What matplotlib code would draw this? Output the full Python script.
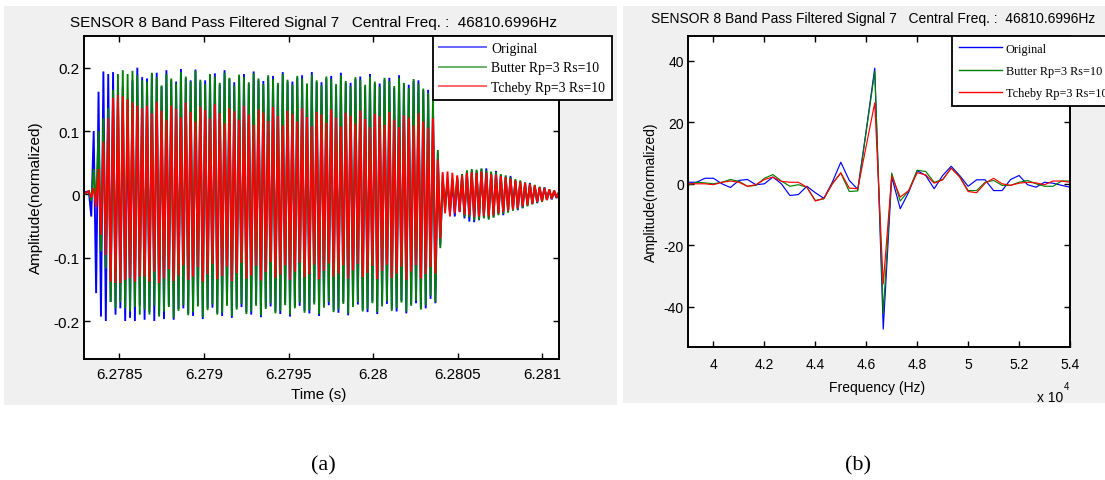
import numpy as np
import matplotlib
matplotlib.use("Agg")
import matplotlib.pyplot as plt
from matplotlib.patches import Rectangle
from matplotlib.lines import Line2D

plt.rcParams['font.family'] = ['Liberation Sans', 'DejaVu Sans']

# ---------------- data : panel (a) time signal ----------------
t_start, t_end = 6.27829, 6.28110

blue_onset = [0.003, 0.004, 0.005, -0.035, 0.100, -0.156, 0.162, -0.193, 0.194, -0.200,
              0.190, -0.170, 0.193, -0.190, 0.160, -0.180, 0.170, -0.200, 0.150, -0.195,
              0.180, -0.200, 0.200, -0.175, 0.185]
green_onset = [0.000, 0.002, 0.005, -0.010, 0.040, -0.020, 0.100, -0.090, 0.120, -0.117,
               0.136, -0.170, 0.165, -0.180, 0.190, -0.170, 0.196, -0.180, 0.190, -0.185,
               0.195, -0.178, 0.188, -0.190, 0.180]
red_onset = [0.000, 0.003, 0.005, -0.005, 0.010, -0.020, 0.040, -0.064, 0.083, -0.096,
             0.120, -0.138, 0.152, -0.140, 0.157, -0.140, 0.155, -0.135, 0.150, -0.132,
             0.145, -0.138, 0.140, -0.130, 0.136]

green_burst_neg = [-0.182, -0.190, -0.176, -0.193, -0.185, -0.178, -0.195, -0.184, -0.175, -0.191,
                   -0.186, -0.177, -0.194, -0.183, -0.174, -0.190, -0.187, -0.176, -0.192, -0.182,
                   -0.173, -0.189, -0.185, -0.176, -0.191, -0.181, -0.172, -0.188, -0.184, -0.175,
                   -0.190, -0.180, -0.171, -0.187, -0.183, -0.174, -0.189, -0.179, -0.170, -0.186,
                   -0.182, -0.173, -0.188, -0.178, -0.170, -0.185, -0.181, -0.172, -0.186, -0.177,
                   -0.169, -0.184, -0.180, -0.171, -0.185, -0.176, -0.168, -0.182, -0.175, -0.160,
                   -0.170]
green_burst_pos = [0.178, 0.192, 0.185, 0.172, 0.190, 0.183, 0.175, 0.193, 0.186, 0.178,
                   0.195, 0.181, 0.174, 0.190, 0.186, 0.176, 0.192, 0.184, 0.172, 0.189,
                   0.185, 0.177, 0.191, 0.183, 0.174, 0.188, 0.182, 0.176, 0.190, 0.181,
                   0.173, 0.187, 0.183, 0.175, 0.189, 0.180, 0.172, 0.186, 0.182, 0.174,
                   0.188, 0.179, 0.171, 0.185, 0.181, 0.173, 0.186, 0.178, 0.170, 0.184,
                   0.179, 0.171, 0.184, 0.176, 0.168, 0.182, 0.175, 0.167, 0.160, 0.150]
red_burst_neg = [-0.130, -0.138, -0.122, -0.140, -0.133, -0.118, -0.137, -0.128, -0.112, -0.135,
                 -0.130, -0.115, -0.138, -0.126, -0.110, -0.134, -0.129, -0.114, -0.137, -0.124,
                 -0.108, -0.133, -0.128, -0.113, -0.136, -0.123, -0.107, -0.132, -0.127, -0.112,
                 -0.135, -0.122, -0.108, -0.131, -0.126, -0.111, -0.134, -0.121, -0.109, -0.130,
                 -0.125, -0.112, -0.133, -0.120, -0.110, -0.131, -0.124, -0.113, -0.134, -0.121,
                 -0.111, -0.132, -0.125, -0.114, -0.135, -0.122, -0.112, -0.133, -0.126, -0.115,
                 -0.125]
red_burst_pos = [0.140, 0.128, 0.146, 0.132, 0.118, 0.140, 0.135, 0.122, 0.145, 0.130,
                 0.115, 0.138, 0.133, 0.120, 0.142, 0.128, 0.112, 0.136, 0.131, 0.118,
                 0.140, 0.126, 0.110, 0.134, 0.129, 0.116, 0.138, 0.124, 0.109, 0.132,
                 0.127, 0.115, 0.136, 0.122, 0.108, 0.130, 0.126, 0.113, 0.134, 0.121,
                 0.107, 0.129, 0.124, 0.112, 0.132, 0.119, 0.106, 0.127, 0.123, 0.110,
                 0.130, 0.118, 0.106, 0.125, 0.121, 0.109, 0.128, 0.115, 0.105, 0.120]
blue_burst_neg = [-0.198, -0.186, -0.200, -0.190, -0.197, -0.175, -0.198, -0.181, -0.180, -0.188,
                  -0.192, -0.174, -0.197, -0.180, -0.179, -0.187, -0.192, -0.173, -0.195, -0.179,
                  -0.178, -0.186, -0.190, -0.173, -0.194, -0.178, -0.177, -0.185, -0.189, -0.172,
                  -0.193, -0.177, -0.176, -0.184, -0.188, -0.171, -0.192, -0.176, -0.175, -0.183,
                  -0.187, -0.170, -0.191, -0.175, -0.174, -0.182, -0.186, -0.169, -0.189, -0.174,
                  -0.173, -0.181, -0.185, -0.168, -0.188, -0.173, -0.172, -0.179, -0.180, -0.165,
                  -0.172]
blue_burst_pos = [0.183, 0.190, 0.192, 0.170, 0.196, 0.180, 0.178, 0.198, 0.183, 0.180,
                  0.197, 0.178, 0.180, 0.188, 0.191, 0.173, 0.196, 0.182, 0.177, 0.186,
                  0.190, 0.174, 0.194, 0.180, 0.179, 0.185, 0.187, 0.173, 0.193, 0.178,
                  0.178, 0.184, 0.188, 0.172, 0.193, 0.177, 0.177, 0.183, 0.187, 0.171,
                  0.192, 0.176, 0.176, 0.182, 0.186, 0.170, 0.190, 0.175, 0.175, 0.181,
                  0.184, 0.168, 0.188, 0.173, 0.173, 0.179, 0.180, 0.164, 0.165, 0.140]

green_tail = [0.070, -0.085, 0.030, -0.025, 0.022, -0.028, 0.025, -0.020, 0.028, -0.025,
              0.032, -0.035, 0.038, -0.036, 0.040, -0.041, 0.039, -0.040, 0.041, -0.038,
              0.038, -0.040, 0.036, -0.037, 0.035, -0.033, 0.032, -0.031, 0.030, -0.029,
              0.027, -0.026, 0.024, -0.024, 0.022, -0.021, 0.019, -0.019, 0.017, -0.016,
              0.015, -0.013, 0.012, -0.012, 0.010, -0.009, 0.008, -0.007, 0.006, -0.005,
              0.004]
red_tail = [0.055, -0.070, 0.035, -0.030, 0.036, -0.035, 0.034, -0.030, 0.030, -0.028,
            0.030, -0.032, 0.034, -0.033, 0.035, -0.036, 0.034, -0.035, 0.036, -0.034,
            0.034, -0.035, 0.032, -0.033, 0.031, -0.030, 0.029, -0.028, 0.027, -0.026,
            0.025, -0.024, 0.022, -0.022, 0.020, -0.019, 0.018, -0.017, 0.016, -0.015,
            0.014, -0.012, 0.011, -0.011, 0.010, -0.009, 0.008, -0.007, 0.006, -0.005,
            0.004]
blue_tail = [0.065, -0.080, 0.020, -0.015, 0.018, -0.030, 0.020, -0.035, 0.025, -0.028,
             0.030, -0.038, 0.035, -0.043, 0.037, -0.044, 0.036, -0.041, 0.040, -0.036,
             0.041, -0.038, 0.034, -0.035, 0.037, -0.031, 0.030, -0.033, 0.028, -0.027,
             0.029, -0.024, 0.022, -0.025, 0.020, -0.022, 0.018, -0.017, 0.018, -0.015,
             0.013, -0.014, 0.011, -0.010, 0.011, -0.008, 0.007, -0.008, 0.005, -0.006,
             0.003]

time_ticks = [6.2785, 6.279, 6.2795, 6.28, 6.2805, 6.281]
time_tick_labels = ['6.2785', '6.279', '6.2795', '6.28', '6.2805', '6.281']
amp_ticks = [-0.2, -0.1, 0, 0.1, 0.2]
amp_tick_labels = ['-0.2', '-0.1', '0', '0.1', '0.2']

# ---------------- data : panel (b) spectrum ----------------
f_start, f_end = 39000, 54000
blue_spec = [0.5, 0.5, 1.8, 1.8, 0.0, -1.2, 1.1, 1.4, -0.3, 0.0,
             2.2, 0.0, -3.8, -3.5, -0.8, -2.9, -4.7, 0.5, 7.0, 1.1,
             -1.8, 17.5, 37.6, -47.2, 2.2, -8.1, -2.7, 4.3, 2.7, -1.6,
             2.7, 5.7, 2.7, -0.8, 1.3, 1.3, -2.2, -2.2, 1.4, 2.7,
             -0.3, -1.1, 0.5, 0.2, -0.5, -1.1]
green_spec = [-0.5, 0.5, 0.3, 0.0, 0.5, 1.4, 0.8, -0.8, -0.5, 1.8,
              3.0, 0.9, -0.8, -0.3, -1.1, -5.4, -4.9, 0.0, 3.5, -2.5,
              -2.3, 17.0, 36.5, -42.0, 3.5, -5.6, -2.2, 4.4, 4.0, 0.5,
              1.4, 5.1, 2.4, -2.2, -2.2, 0.5, 1.1, -0.5, -0.5, 0.5,
              1.1, 0.0, -0.8, -0.8, 0.9, 0.9]
red_spec = [0.0, 0.0, 0.0, -0.3, 0.5, 0.9, 0.5, -0.8, -0.3, 1.4,
            2.2, 0.8, 0.5, 0.5, -1.1, -5.6, -4.7, 0.0, 3.6, -1.4,
            -1.6, 12.4, 26.3, -32.5, 2.5, -4.3, -2.2, 3.6, 2.9, 0.2,
            1.3, 5.1, 2.2, -2.5, -2.9, 0.2, 1.8, 0.0, -0.5, 0.2,
            0.5, 0.3, -0.3, 0.9, 0.9, 0.5]
freq_ticks = [40000, 42000, 44000, 46000, 48000, 50000, 52000, 54000]
freq_tick_labels = ['4', '4.2', '4.4', '4.6', '4.8', '5', '5.2', '5.4']
spec_ticks = [-40, -20, 0, 20, 40]
spec_tick_labels = ['-40', '-20', '0', '20', '40']

series_names = ['Original', 'Butter Rp=3 Rs=10', 'Tcheby Rp=3 Rs=10']
series_colors = ['#0000ff', '#008000', '#ff0000']
title_text = 'SENSOR 8 Band Pass Filtered Signal 7   Central Freq. :  46810.6996Hz'


def assemble(onset, neg, pos, tail):
    burst = np.empty(len(neg) + len(pos))
    burst[0::2] = neg
    burst[1::2] = pos
    return np.concatenate([onset, burst, tail])


blue_sig = assemble(blue_onset, blue_burst_neg, blue_burst_pos, blue_tail)
green_sig = assemble(green_onset, green_burst_neg, green_burst_pos, green_tail)
red_sig = assemble(red_onset, red_burst_neg, red_burst_pos, red_tail)
t = np.linspace(t_start, t_end, len(green_sig))
freqs = np.linspace(f_start, f_end, len(green_spec))

# ---------------- figure ----------------
W, H = 1105, 481
fig = plt.figure(figsize=(W / 100, H / 100), dpi=100)
fig.patch.set_facecolor('white')


def fx(px):
    return px / W


def fy(py):
    return 1 - py / H


def add_bg(x0, y0, x1, y1):
    fig.add_artist(Rectangle((fx(x0), fy(y1)), fx(x1) - fx(x0), fy(y0) - fy(y1),
                             transform=fig.transFigure, facecolor='#f0f0f0',
                             edgecolor='none', zorder=-5))


add_bg(4, 7, 617, 406)
add_bg(623, 7, 1105, 404)


def make_axes(x0, y0, x1, y1):
    ax = fig.add_axes([fx(x0), fy(y1), fx(x1) - fx(x0), fy(y0) - fy(y1)])
    ax.set_facecolor('white')
    for s in ax.spines.values():
        s.set_linewidth(1.4)
        s.set_color('black')
    return ax


# ----- panel (a)
ax1 = make_axes(84, 37, 559, 360)
for y, c in zip([blue_sig, green_sig, red_sig], series_colors):
    ax1.plot(t, y, color=c, lw=1.35, solid_joinstyle='miter')
ax1.set_xlim(t_start, t_end)
ax1.set_ylim(-0.26, 0.25)
ax1.set_xticks(time_ticks)
ax1.set_xticklabels(time_tick_labels)
ax1.set_yticks(amp_ticks)
ax1.set_yticklabels(amp_tick_labels)
ax1.tick_params(direction='in', length=4, width=1, top=True, right=True,
                labelsize=11, colors='black')
ax1.tick_params(axis='x', pad=6)
ax1.tick_params(axis='y', pad=3)

fig.text(fx(313), fy(23), title_text, ha='center', va='center', fontsize=11)
fig.text(fx(319), fy(395), 'Time (s)', ha='center', va='center', fontsize=11)
fig.text(fx(36), fy(198), 'Amplitude(normalized)', ha='center', va='center',
         rotation=90, fontsize=11)

h1 = [Line2D([], [], color=c, lw=1.4, alpha=0.6) for c in series_colors]
leg1 = fig.legend(h1, series_names, loc='upper left',
                  bbox_to_anchor=(fx(433), fy(37)), bbox_transform=fig.transFigure,
                  prop={'family': 'Liberation Serif', 'size': 9.9},
                  frameon=True, fancybox=False, edgecolor='black', framealpha=1,
                  borderpad=0.45, labelspacing=0.45, handlelength=3.4,
                  handletextpad=0.4, borderaxespad=0)
leg1.get_frame().set_linewidth(1.3)

# ----- panel (b)
ax2 = make_axes(688, 37, 1070, 348)
for y, c in zip([blue_spec, green_spec, red_spec], series_colors):
    ax2.plot(freqs, y, color=c, lw=0.85)
ax2.set_xlim(f_start, f_end)
ax2.set_ylim(-53, 48)
ax2.set_xticks(freq_ticks)
ax2.set_xticklabels(freq_tick_labels)
ax2.set_yticks(spec_ticks)
ax2.set_yticklabels(spec_tick_labels)
ax2.tick_params(direction='in', length=4, width=1, top=True, right=True,
                labelsize=10, colors='black')
ax2.tick_params(axis='x', pad=7)
ax2.tick_params(axis='y', pad=3)

fig.text(fx(873.5), fy(19), title_text, ha='center', va='center', fontsize=10)
fig.text(fx(877), fy(388), 'Frequency (Hz)', ha='center', va='center', fontsize=10)
fig.text(fx(651), fy(192), 'Amplitude(normalized)', ha='center', va='center',
         rotation=90, fontsize=10)
fig.text(fx(1050), fy(398), 'x 10', ha='center', va='center', fontsize=10)
fig.text(fx(1067), fy(387), '4', ha='center', va='center', fontsize=7)

h2 = [Line2D([], [], color=c, lw=1.0) for c in series_colors]
leg2 = fig.legend(h2, series_names, loc='upper left',
                  bbox_to_anchor=(fx(952), fy(37)), bbox_transform=fig.transFigure,
                  prop={'family': 'Liberation Serif', 'size': 8.8},
                  frameon=True, fancybox=False, edgecolor='black', framealpha=1,
                  borderpad=0.55, labelspacing=0.85, handlelength=3.5,
                  handletextpad=0.35, borderaxespad=0)
leg2.get_frame().set_linewidth(1.3)

# ----- sub-figure captions
fig.text(fx(323), fy(466), '(a)', ha='center', va='center', fontsize=16,
         family='Liberation Serif')
fig.text(fx(858), fy(466), '(b)', ha='center', va='center', fontsize=16,
         family='Liberation Serif')

fig.savefig('out.png', dpi=100, facecolor='white')
